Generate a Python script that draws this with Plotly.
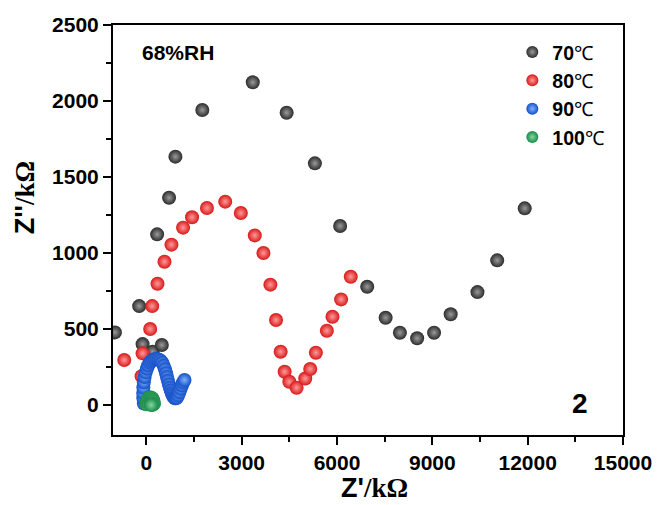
import plotly.graph_objects as go

# ---- data ----
x70 = [-990, -226, -119, 194, 486, 339, 715, 914, 1761, 3349, 4415, 5304, 6098,
       6950, 7530, 7979, 8521, 9054, 9577, 10420, 11041, 11907]
y70 = [478, 651, 401, 351, 395, 1123, 1364, 1634, 1941, 2123, 1923, 1590, 1178,
       778, 574, 476, 439, 476, 597, 743, 952, 1294]

x80 = [-696, -150, -119, 120, 183, 350, 570, 789, 1155, 1437, 1907, 2482, 2973,
       3412, 3684, 3903, 4081, 4226, 4351, 4499, 4728, 5000, 5157, 5335, 5680,
       5857, 6129, 6432]
y80 = [296, 190, 340, 500, 651, 798, 943, 1055, 1167, 1235, 1296, 1338, 1263,
       1116, 1000, 792, 559, 351, 219, 153, 114, 175, 237, 344, 489,
       581, 695, 844]

x90 = [-80, -95, -100, -95, -80, -55, -20, 20, 60, 110, 160, 215, 270, 330, 390,
       450, 500, 545, 585, 620, 650, 680, 710, 740, 770, 800, 830, 860, 895, 930,
       965, 1000, 1040, 1080, 1120, 1160, 1200]
y90 = [10, 45, 80, 115, 150, 185, 215, 240, 262, 279, 290, 298, 302, 303, 300,
       292, 278, 258, 235, 210, 185, 160, 136, 114, 95, 78, 64, 52, 45, 44,
       50, 65, 85, 108, 130, 150, 165]

x100 = [0, 10, 30, 60, 100, 140, 180, 210, 230, 240, 200, 150]
y100 = [5, 22, 36, 46, 50, 50, 45, 35, 22, 8, 2, 0]

names = ["70", "80", "90", "100"]
xticks = [0, 3000, 6000, 9000, 12000, 15000]
yticks = [0, 500, 1000, 1500, 2000, 2500]

# ---- styles ----
edge = ["#2b2b2b", "#d81818", "#1450c8", "#1a8a48"]
glow = ["#9a9a9a", "#ff9a9a", "#7fb0ff", "#80d8a0"]
SANS = "Liberation Sans"
SERIF = "Liberation Serif"

fig = go.Figure()
for xs, ys, nm, ec, gc in zip([x70, x80, x90, x100], [y70, y80, y90, y100],
                              names, edge, glow):
    fig.add_trace(go.Scatter(
        x=xs, y=ys, mode="markers", name=f"<b>{nm}</b>℃",
        marker=dict(size=14, color=ec, line=dict(width=0),
                    gradient=dict(type="radial", color=gc)),
    ))

axis_common = dict(
    showline=True, linewidth=2, linecolor="black", mirror=True,
    ticks="outside", ticklen=8, tickwidth=2, tickcolor="black",
    showgrid=False, zeroline=False,
    tickfont=dict(family=SANS, size=21, color="black", weight="bold"),
)

fig.update_xaxes(range=[-1050, 15000], tickvals=xticks,
                 ticktext=[str(v) for v in xticks],
                 minor=dict(tickvals=[1500, 4500, 7500, 10500, 13500],
                            ticks="outside", ticklen=5, tickwidth=2,
                            tickcolor="black"),
                 **axis_common)
fig.update_yaxes(range=[-197, 2500], tickvals=yticks,
                 ticktext=[str(v) for v in yticks],
                 minor=dict(tickvals=[250, 750, 1250, 1750, 2250],
                            ticks="outside", ticklen=5, tickwidth=2,
                            tickcolor="black"),
                 **axis_common)

fig.add_annotation(xref="paper", yref="paper", x=0.053, y=0.934,
                   xanchor="left", yanchor="middle", showarrow=False,
                   text="<b>68%RH</b>",
                   font=dict(family=SANS, size=21, color="black"))
fig.add_annotation(xref="paper", yref="paper", x=0.916, y=0.078,
                   xanchor="center", yanchor="middle", showarrow=False,
                   text="<b>2</b>",
                   font=dict(family=SANS, size=28, color="black"))
fig.add_annotation(xref="paper", yref="paper", x=0.512, y=-0.129,
                   xanchor="center", yanchor="middle", showarrow=False,
                   text=f"<b>Z'</b><span style='font-family:{SERIF}'><b>/kΩ</b></span>",
                   font=dict(family=SANS, size=27, color="black"))
fig.add_annotation(xref="paper", yref="paper", x=-0.172, y=0.578,
                   xanchor="center", yanchor="middle", showarrow=False,
                   textangle=-90,
                   text=f"<b>Z''</b><span style='font-family:{SERIF}'><b>/kΩ</b></span>",
                   font=dict(family=SANS, size=27, color="black"))

fig.update_layout(
    width=664, height=505, autosize=False,
    margin=dict(l=113, r=39, t=25, b=70),
    plot_bgcolor="white", paper_bgcolor="white",
    showlegend=True,
    legend=dict(x=0.783, y=0.981, xanchor="left", yanchor="top",
                bgcolor="rgba(0,0,0,0)", borderwidth=0,
                font=dict(family=SANS, size=19.5, color="black"),
                itemsizing="constant"),
)

fig.write_html("out.html")
